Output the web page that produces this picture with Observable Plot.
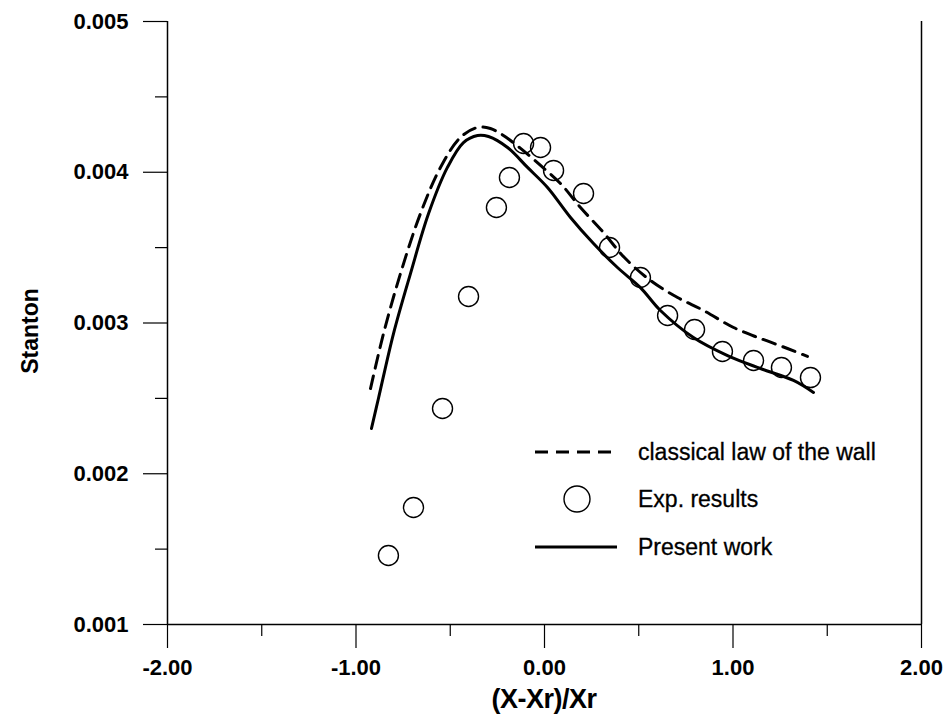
<!DOCTYPE html>
<html>
<head>
<meta charset="utf-8">
<script src="https://cdn.jsdelivr.net/npm/d3@7"></script>
<script src="https://cdn.jsdelivr.net/npm/@observablehq/plot@0.6"></script>
<style>
  html, body { margin: 0; padding: 0; background: #fff; }
  #chart svg { display: block; }
</style>
</head>
<body>
<div id="chart"></div>
<script>
// ---- Data ----
const expX = [-0.828, -0.695, -0.541, -0.403, -0.255, -0.186, -0.111, -0.021, 0.048, 0.207, 0.345, 0.509, 0.653, 0.796, 0.944, 1.109, 1.257, 1.411];
const expY = [0.001458, 0.001776, 0.002433, 0.003176, 0.003766, 0.003965, 0.004191, 0.004164, 0.004012, 0.003859, 0.003501, 0.003302, 0.003050, 0.002957, 0.002811, 0.002751, 0.002705, 0.002638];

const presentX = [-0.918, -0.881, -0.801, -0.711, -0.615, -0.515, -0.430, -0.355, -0.297, -0.196, -0.090, 0.016, 0.138, 0.260, 0.387, 0.509, 0.615, 0.790, 0.971, 1.146, 1.321, 1.427];
const presentY = [0.002300, 0.002499, 0.002930, 0.003328, 0.003726, 0.004032, 0.004197, 0.004244, 0.004237, 0.004164, 0.004032, 0.003899, 0.003700, 0.003527, 0.003368, 0.003235, 0.003083, 0.002904, 0.002784, 0.002698, 0.002619, 0.002539];

const classicalX = [-0.923, -0.854, -0.764, -0.658, -0.552, -0.446, -0.355, -0.287, -0.218, -0.127, -0.021, 0.085, 0.191, 0.313, 0.424, 0.562, 0.706, 0.844, 1.003, 1.146, 1.289, 1.395];
const classicalY = [0.002565, 0.002930, 0.003328, 0.003726, 0.004032, 0.004231, 0.004297, 0.004290, 0.004244, 0.004158, 0.004045, 0.003925, 0.003766, 0.003600, 0.003434, 0.003282, 0.003169, 0.003083, 0.002970, 0.002897, 0.002831, 0.002778];

const xTicks = [-2, -1, 0, 1, 2];
const xMinorTicks = [-1.5, -0.5, 0.5, 1.5];
const yTicks = [0.001, 0.002, 0.003, 0.004, 0.005];
const yMinorTicks = [0.0015, 0.0025, 0.0035, 0.0045];

const xTitle = "(X-Xr)/Xr";
const yTitle = "Stanton";
const legendLabels = ["classical law of the wall", "Exp. results", "Present work"];

// ---- Tables ----
const exp = expX.map((x, i) => ({x, y: expY[i]}));
const present = presentX.map((x, i) => ({x, y: presentY[i]}));
const classical = classicalX.map((x, i) => ({x, y: classicalY[i]}));

const FONT = "'Liberation Sans', Arial, Helvetica, sans-serif";
const DASH = "13,8";

const plot = Plot.plot({
  width: 948,
  height: 717,
  marginLeft: 167,
  marginRight: 27,
  marginTop: 21,
  marginBottom: 93,
  x: {domain: [-2, 2]},
  y: {domain: [0.001, 0.005]},
  style: {fontFamily: FONT, fontSize: "22px", fontWeight: "bold", color: "#000", background: "#fff", overflow: "visible"},
  marks: [
    // frame pieces: left axis, right border, bottom axis
    Plot.ruleX([-2, 2], {stroke: "#000", strokeWidth: 1.5}),
    Plot.ruleY([0.001], {stroke: "#000", strokeWidth: 1.5}),
    // axes
    Plot.axisX({ticks: xTicks, tickSize: 24, tickPadding: 11, tickFormat: d => d.toFixed(2), label: null, strokeWidth: 1.2}),
    Plot.axisX({ticks: xMinorTicks, tickSize: 12, tickFormat: () => "", label: null, strokeWidth: 1.2}),
    Plot.axisY({ticks: yTicks, tickSize: 24, tickPadding: 15, tickFormat: d => d.toFixed(3), label: null, strokeWidth: 1.2}),
    Plot.axisY({ticks: yMinorTicks, tickSize: 12, tickFormat: () => "", label: null, strokeWidth: 1.2}),
    // series
    Plot.line(classical, {x: "x", y: "y", curve: "catmull-rom", stroke: "#000", strokeWidth: 3, strokeDasharray: DASH}),
    Plot.line(present, {x: "x", y: "y", curve: "catmull-rom", stroke: "#000", strokeWidth: 3}),
    Plot.dot(exp, {x: "x", y: "y", r: 10, stroke: "#000", strokeWidth: 1.4, fill: "none"})
  ]
});

document.getElementById("chart").appendChild(plot);

// ---- Titles and legend (layout only) ----
const svg = d3.select(plot);

svg.append("text")
  .attr("x", 544).attr("y", 708)
  .attr("text-anchor", "middle")
  .style("font-family", FONT).style("font-size", "27px").style("font-weight", "bold")
  .style("letter-spacing", "-0.5px")
  .text(xTitle);

svg.append("text")
  .attr("transform", "translate(38,331) rotate(-90)")
  .attr("text-anchor", "middle")
  .style("font-family", FONT).style("font-size", "23px").style("font-weight", "bold")
  .text(yTitle);

const lg = svg.append("g")
  .attr("text-anchor", "start")
  .style("font-family", FONT).style("font-size", "23px").style("font-weight", "normal");
const rows = [452, 499, 547];
lg.append("line").attr("x1", 535).attr("x2", 617).attr("y1", rows[0]).attr("y2", rows[0])
  .attr("stroke", "#000").attr("stroke-width", 3).attr("stroke-dasharray", DASH);
lg.append("circle").attr("cx", 577).attr("cy", rows[1]).attr("r", 13)
  .attr("fill", "none").attr("stroke", "#000").attr("stroke-width", 1.4);
lg.append("line").attr("x1", 535).attr("x2", 617).attr("y1", rows[2]).attr("y2", rows[2])
  .attr("stroke", "#000").attr("stroke-width", 3);
legendLabels.forEach((t, i) => {
  lg.append("text").attr("x", 638).attr("y", rows[i]).attr("dy", "0.35em")
    .attr("text-anchor", "start")
    .style("letter-spacing", "0px")
    .style("stroke", "#000").style("stroke-width", "0.3px")
    .text(t);
});
</script>
</body>
</html>
